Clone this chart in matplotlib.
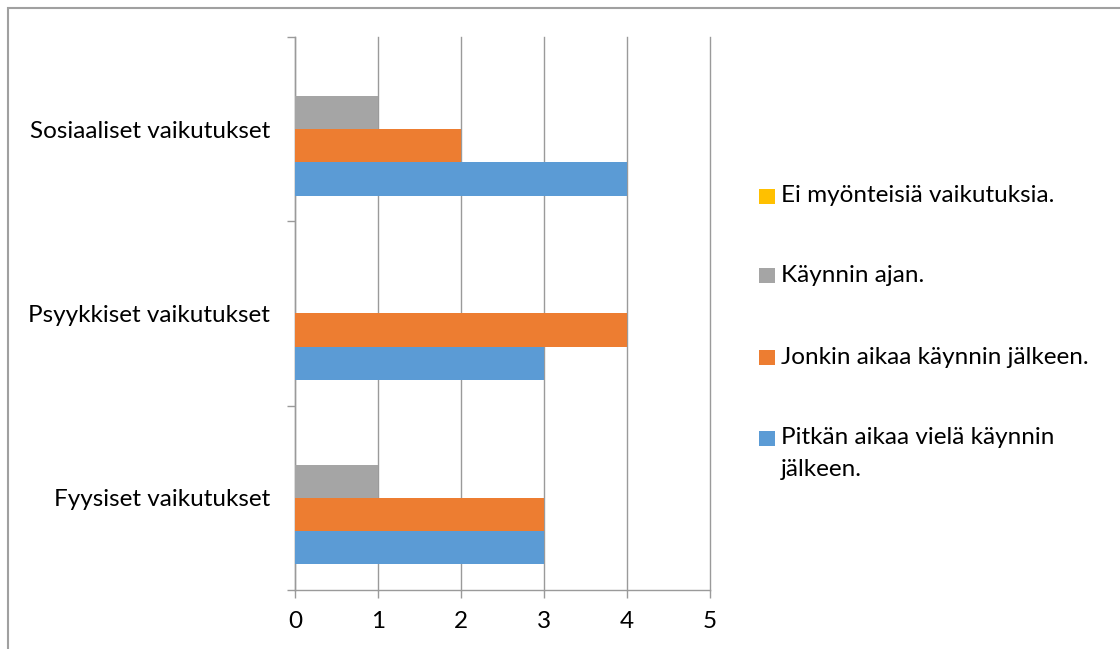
import matplotlib
matplotlib.use("Agg")
import matplotlib.pyplot as plt
from matplotlib.patches import Rectangle

categories = ["Fyysiset vaikutukset", "Psyykkiset vaikutukset", "Sosiaaliset vaikutukset"]
series_names = [
    "Pitkän aikaa vielä käynnin\njälkeen.",
    "Jonkin aikaa käynnin jälkeen.",
    "Käynnin ajan.",
    "Ei myönteisiä vaikutuksia.",
]
pitkan = [3, 3, 4]
jonkin = [3, 4, 2]
kaynnin = [1, 0, 1]
ei_myont = [0, 0, 0]
x_ticks = [0, 1, 2, 3, 4, 5]

colors = ["#5B9BD5", "#ED7D31", "#A5A5A5", "#FFC000"]
series = [pitkan, jonkin, kaynnin, ei_myont]

plt.rcParams["font.family"] = ["Lato", "DejaVu Sans"]

W, H = 1120, 649
fig = plt.figure(figsize=(W / 100, H / 100), dpi=100)
ax = fig.add_axes([295 / W, 1 - 590 / H, 415 / W, 553 / H])

h = 0.18
n = len(series)
for i, (vals, col, name) in enumerate(zip(series, colors, series_names)):
    off = (i - (n - 1) / 2) * h
    ypos = [k + off for k in range(len(categories))]
    ax.barh(ypos, vals, height=h, color=col, label=name, zorder=3)

ax.set_xlim(0, 5)
ax.set_ylim(-0.5, len(categories) - 0.5)
ax.set_xticks(x_ticks)
ax.set_xticklabels([str(t) for t in x_ticks])
ax.grid(axis="x", color="#9a9a9a", lw=1, zorder=0)
for gl in ax.get_xgridlines():
    gl.set_clip_on(False)

# category boundaries get tick marks, category centers get labels
ax.set_yticks([k - 0.5 for k in range(len(categories) + 1)])
ax.set_yticklabels([])
ax.set_yticks(range(len(categories)), minor=True)
ax.set_yticklabels(categories, minor=True)
ax.tick_params(axis="y", which="major", length=6, color="#9a9a9a", width=1)
ax.tick_params(axis="y", which="minor", length=0, pad=18, labelsize=17.5)
ax.tick_params(axis="x", length=6, color="#9a9a9a", width=1, labelsize=17.5, pad=9)

for s in ["top", "right"]:
    ax.spines[s].set_visible(False)
for s in ["left", "bottom"]:
    ax.spines[s].set_color("#9a9a9a")
    ax.spines[s].set_linewidth(1)

# legend entries, top to bottom in reverse series order
leg_rows = [196, 275, 357, 438]
line_gap = 32
for row_y, name, col in zip(leg_rows, series_names[::-1], colors[::-1]):
    fig.patches.append(Rectangle((759 / W, 1 - (row_y + 8) / H), 16 / W, 15 / H,
                                 transform=fig.transFigure, facecolor=col,
                                 edgecolor="none"))
    for k, line in enumerate(name.split("\n")):
        fig.text(781 / W, 1 - (row_y + k * line_gap) / H, line, fontsize=17.5,
                 ha="left", va="center")

fig.patches.append(Rectangle((8 / W, -0.1), 1.2, 1 - 7.5 / H + 0.1,
                             transform=fig.transFigure, fill=False,
                             edgecolor="#a0a0a0", lw=1.5))

fig.savefig("out.png", dpi=100)
